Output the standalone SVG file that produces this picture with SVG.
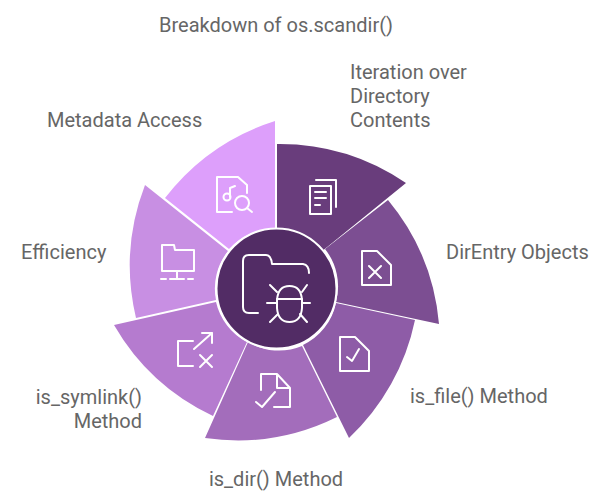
<svg xmlns="http://www.w3.org/2000/svg" width="612" height="504" viewBox="0 0 612 504">
<style>
text{font-family:Roboto,"Liberation Sans",sans-serif;font-size:20px;fill:#666}
.i{fill:none;stroke:#fff;stroke-width:2;stroke-linecap:round;stroke-linejoin:round}
</style>
<rect width="612" height="504" fill="#fff"/>
<text x="276" y="32" text-anchor="middle">Breakdown of os.scandir()</text>
<g id="seg1"><path d="M277 144A225 225 0 0 1 406 183L323.500 250A60 60 0 0 0 277 229Z" fill="#693d7c"/>
<path class="i" d="M310 186H331V214H310ZM316 180H336V207M315 192H326M315 198H326M315 205H320"/><text x="350" y="79">Iteration over</text><text x="350" y="103">Directory</text><text x="350" y="127">Contents</text></g>
<g id="seg2"><path d="M388 200A225 225 0 0 1 439 324L336 302A60 60 0 0 0 325 249Z" fill="#7c4e92"/>
<path class="i" d="M362 251H377L391 265V285H362ZM369 266L381 278M381 266L369 278"/><text x="446" y="259">DirEntry Objects</text></g>
<g id="seg3"><path d="M415 320A225 225 0 0 1 349 438L303 345A60 60 0 0 0 336 303Z" fill="#8e5ca7"/>
<path class="i" d="M340 337H355L369 351V371H340ZM347 357L352 361L359 349"/><text x="410" y="403">is_file() Method</text></g>
<g id="seg4"><path d="M337 417A225 225 0 0 1 205 438L248 342A60 60 0 0 0 302 346Z" fill="#a36dbb"/>
<path class="i" d="M261 390V374H277L290 388V407H274M277 374V388H290M256 402L262 407L275 392"/><text x="276" y="486" text-anchor="middle">is_dir() Method</text></g>
<g id="seg5"><path d="M213 416A225 225 0 0 1 114 325L216 302A60 60 0 0 0 247 342Z" fill="#b57bcf"/>
<path class="i" d="M193 341H178V366H193M194 349L212 333M202 333H212V343M200 355L212 367M212 355L200 367"/><text x="142" y="404" text-anchor="end">is_symlink()</text><text x="142" y="428" text-anchor="end">Method</text></g>
<g id="seg6"><path d="M136 318A225 225 0 0 1 145 185L228 251A60 60 0 0 0 216 300Z" fill="#c88fe3"/>
<path class="i" d="M162 245H174L175 250H194V271H162ZM177 271V279M161 279H166M170 279H184M188 279H193"/><text x="21" y="259">Efficiency</text></g>
<g id="seg7"><path d="M165 198A225 225 0 0 1 275 121V229A60 60 0 0 0 229 249Z" fill="#dd9ffb"/>
<path class="i" d="M232 212H217V177H238L247 185V193M230 197V188L235 186"/><circle class="i" cx="227" cy="197" r="3.500"/><circle class="i" cx="242" cy="203" r="7"/><path class="i" d="M247 208L252 212"/><text x="47" y="127">Metadata Access</text></g>
<g id="center"><circle cx="276.500" cy="288.500" r="60" fill="#522c65" stroke="#fff" stroke-width="2"/>
<path class="i" d="M258 313H249Q243 313 243 307V261Q243 255 249 255H266Q271 255 272 264H303Q309 265 309 273M270 285L277 292M307 285L302 292M270 322L278 314M307 322L300 314M267 303H277M302 303H310M277 299H302"/><path class="i" d="M277 300Q278 286 289.500 286Q301 286 302 300V308Q301 322 289.500 322Q278 322 277 308Z"/></g>
</svg>
